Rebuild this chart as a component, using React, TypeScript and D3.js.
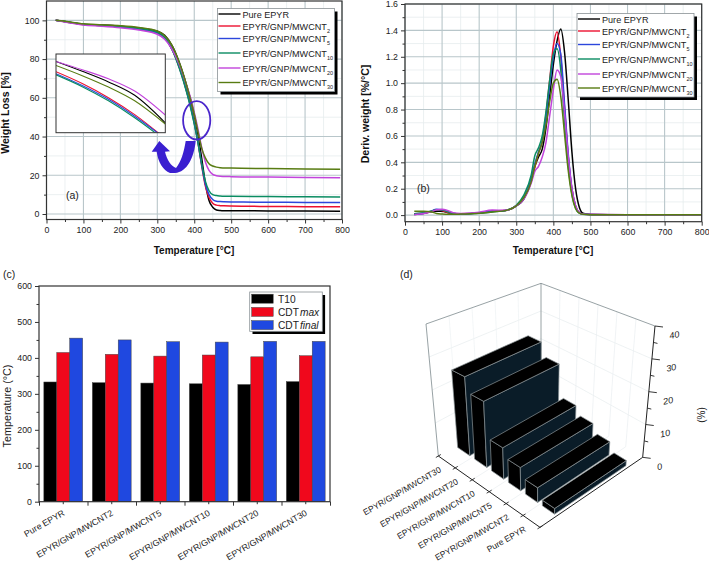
import React, { useEffect, useRef } from "react";
import * as d3 from "d3";

const seriesNames = ["Pure EPYR", "EPYR/GNP/MWCNT", "EPYR/GNP/MWCNT", "EPYR/GNP/MWCNT", "EPYR/GNP/MWCNT", "EPYR/GNP/MWCNT"];
const seriesSubs = ["", "2", "5", "10", "20", "30"];
const seriesColors = ["#000000", "#ec1030", "#2c46dc", "#0a8c62", "#c244dc", "#587c12"];

// TGA curves
const tempsA = [25, 50, 100, 150, 200, 250, 300, 320, 340, 360, 380, 390, 400, 410, 420, 430, 440, 450, 460, 470, 480, 500, 600, 700, 795];
const weightPure = [100, 99.4, 98, 97.6, 97, 96, 94.4, 92.3, 87, 78, 66, 59, 51, 41, 29, 16, 7, 3.5, 2.1, 1.8, 1.7, 1.7, 1.6, 1.5, 1.4];
const weight2 = [100, 99.3, 97.9, 97.3, 96.6, 95.5, 93.5, 91, 85, 75.5, 63, 56, 47.5, 37, 25, 14.5, 8.5, 5.6, 4.6, 4.3, 4.2, 4.1, 3.9, 3.8, 3.7];
const weight5 = [100, 99.3, 97.9, 97.3, 96.6, 95.5, 93.6, 91, 85, 75.5, 63, 55.5, 47, 37, 25.5, 15.5, 10, 7.5, 6.6, 6.4, 6.3, 6.2, 6.1, 6, 5.9];
const weight10 = [100, 99.4, 98, 97.4, 96.8, 95.8, 93.8, 91.2, 85, 75, 62.5, 55, 46.5, 37, 26, 17, 12, 10, 9.5, 9.3, 9.2, 9.2, 9, 8.9, 8.8];
const weight20 = [100, 99.2, 97.6, 97, 96.2, 95, 92.8, 90.2, 85, 77, 66, 60, 52.5, 44, 34.5, 27, 22.5, 20.5, 19.8, 19.5, 19.4, 19.3, 19.1, 18.9, 18.7];
const weight30 = [100, 99.5, 98.2, 97.7, 97.2, 96.3, 94.5, 92.2, 87, 78, 66, 59, 51.5, 42.5, 34, 29, 26, 24.8, 24.2, 23.9, 23.8, 23.7, 23.5, 23.3, 23.1];

// inset of (a)
const insetTemps = [385, 391, 397, 403, 410];
const insetPure = [58.1, 55.6, 52.9, 49.5, 42.5];
const inset2 = [55.5, 52.5, 48.9, 44.6, 38.5];
const inset5 = [55, 52, 48.5, 44.2, 38.5];
const inset10 = [54.7, 51.7, 48.1, 43.8, 38];
const inset20 = [58.1, 56, 53.7, 50.6, 44.5];
const inset30 = [57.1, 54.5, 51.6, 48.1, 42.2];

// DTG curves
const tempsB = [25, 50, 70, 85, 100, 115, 130, 150, 200, 235, 270, 300, 320, 340, 350, 360, 370, 380, 390, 400, 410, 420, 430, 440, 450, 460, 470, 480, 500, 600, 800];
const derivPure = [0.01, 0.015, 0.025, 0.03, 0.03, 0.02, 0.01, 0.01, 0.015, 0.03, 0.035, 0.07, 0.12, 0.26, 0.37, 0.44, 0.5, 0.66, 0.9, 1.14, 1.32, 1.41, 1.24, 0.88, 0.48, 0.2, 0.06, 0.015, 0.005, 0.002, 0.002];
const deriv2 = [0.005, 0.012, 0.028, 0.04, 0.035, 0.02, 0.01, 0.01, 0.018, 0.032, 0.035, 0.07, 0.13, 0.25, 0.36, 0.47, 0.56, 0.76, 1.02, 1.28, 1.39, 1.2, 0.82, 0.45, 0.2, 0.07, 0.02, 0.008, 0.004, 0.002, 0.002];
const deriv5 = [0.005, 0.012, 0.03, 0.045, 0.04, 0.03, 0.012, 0.01, 0.018, 0.03, 0.035, 0.07, 0.13, 0.27, 0.39, 0.48, 0.56, 0.74, 0.98, 1.2, 1.3, 1.22, 0.85, 0.47, 0.2, 0.07, 0.02, 0.008, 0.004, 0.002, 0.002];
const deriv10 = [0.01, 0.018, 0.03, 0.04, 0.04, 0.025, 0.012, 0.01, 0.014, 0.024, 0.034, 0.075, 0.15, 0.3, 0.45, 0.51, 0.6, 0.78, 1.02, 1.22, 1.26, 1.1, 0.72, 0.38, 0.16, 0.05, 0.015, 0.006, 0.003, 0.002, 0.002];
const deriv20 = [0.005, 0.012, 0.025, 0.04, 0.045, 0.035, 0.018, 0.012, 0.022, 0.038, 0.036, 0.07, 0.12, 0.24, 0.33, 0.37, 0.44, 0.55, 0.75, 0.95, 1.1, 1.05, 0.78, 0.45, 0.2, 0.07, 0.02, 0.008, 0.004, 0.003, 0.002];
const deriv30 = [0.03, 0.03, 0.025, 0.012, 0.008, 0.006, 0.006, 0.008, 0.014, 0.024, 0.034, 0.07, 0.13, 0.25, 0.37, 0.47, 0.55, 0.68, 0.86, 1, 1.03, 0.9, 0.62, 0.34, 0.15, 0.05, 0.015, 0.006, 0.003, 0.002, 0.002];

// bars of (c)
const barCategories = ["Pure EPYR", "EPYR/GNP/MWCNT2", "EPYR/GNP/MWCNT5", "EPYR/GNP/MWCNT10", "EPYR/GNP/MWCNT20", "EPYR/GNP/MWCNT30"];
const barKeys = ["T10", "CDT", "CDT"];
const barKeyItalics = ["", "max", "final"];
const barColors = ["#000000", "#f0081c", "#1f48e0"];
const t10 = [333, 331, 330, 328, 326, 334];
const cdtMax = [415, 410, 405, 408, 403, 406];
const cdtFinal = [455, 450, 445, 444, 446, 446];

// bars of (d), back to front
const charCategories = ["EPYR/GNP/MWCNT30", "EPYR/GNP/MWCNT20", "EPYR/GNP/MWCNT10", "EPYR/GNP/MWCNT5", "EPYR/GNP/MWCNT2", "Pure EPYR"];
const charValues = [24, 19.5, 9, 6.5, 4, 1.5];

const FONT = "'Liberation Sans', Arial, sans-serif";
type S = d3.Selection<any, any, any, any>;
type Pt = [number, number];

function drawLegend(g: S, x: number, y: number, w: number, rowYs: number[], fontSize: number) {
  g.append("rect").attr("x", x + 3).attr("y", y + 3).attr("width", w).attr("height", rowYs[5] - y + 9).attr("fill", "#000");
  g.append("rect").attr("x", x).attr("y", y).attr("width", w).attr("height", rowYs[5] - y + 9).attr("fill", "#fff").attr("stroke", "#8a9296").attr("stroke-width", 0.8);
  seriesNames.forEach((name, i) => {
    g.append("line").attr("x1", x + 1).attr("x2", x + 23).attr("y1", rowYs[i]).attr("y2", rowYs[i]).attr("stroke", seriesColors[i]).attr("stroke-width", 1.4);
    const t = g.append("text").attr("x", x + 25).attr("y", rowYs[i] + 3.5).attr("font-size", fontSize).attr("fill", "#222");
    t.append("tspan").text(name);
    if (seriesSubs[i]) t.append("tspan").attr("dy", 3).attr("font-size", fontSize * 0.6).text(seriesSubs[i]);
  });
}

function drawLinePanel(
  g: S,
  box: { l: number; r: number; t: number; b: number },
  yDomain: [number, number],
  yMajor: number[],
  yMinor: number[],
  yFormat: (d: number) => string,
  temps: number[],
  series: number[][],
) {
  const x = d3.scaleLinear().domain([0, 800]).range([box.l, box.r]);
  const y = d3.scaleLinear().domain(yDomain).range([box.b, box.t]);
  const xMajor = d3.range(0, 801, 100);
  const xMinor = d3.range(50, 800, 100);

  // grid
  const grid = (vals: number[], color: string, width: number) => {
    vals.forEach((v) => g.append("line").attr("x1", x(v)).attr("x2", x(v)).attr("y1", box.t).attr("y2", box.b).attr("stroke", color).attr("stroke-width", width));
  };
  const gridH = (vals: number[], color: string, width: number) => {
    vals.forEach((v) => g.append("line").attr("x1", box.l).attr("x2", box.r).attr("y1", y(v)).attr("y2", y(v)).attr("stroke", color).attr("stroke-width", width));
  };
  grid(xMinor, "#e6ecee", 0.8);
  gridH(yMinor, "#e6ecee", 0.8);
  grid(xMajor, "#b8c6ca", 1.1);
  gridH(yMajor, "#b8c6ca", 1.1);

  const line = d3.line<number>().x((_, i) => x(temps[i])).y((d) => y(d)).curve(d3.curveMonotoneX);
  series.forEach((vals, i) => {
    g.append("path").attr("d", line(vals)).attr("fill", "none").attr("stroke", seriesColors[i]).attr("stroke-width", 1.5);
  });

  g.append("rect").attr("x", box.l).attr("y", box.t).attr("width", box.r - box.l).attr("height", box.b - box.t).attr("fill", "none").attr("stroke", "#333").attr("stroke-width", 1.2);

  const xAxis = d3.axisBottom(x).tickValues(xMajor).tickSize(4).tickFormat((d) => String(d));
  const xAxisMinor = d3.axisBottom(x).tickValues(xMinor).tickSize(2.5).tickFormat(() => "");
  const yAxis = d3.axisLeft(y).tickValues(yMajor).tickSize(4).tickFormat((d) => yFormat(+d));
  const yAxisMinor = d3.axisLeft(y).tickValues(yMinor).tickSize(2.5).tickFormat(() => "");
  [
    g.append("g").attr("transform", `translate(0,${box.b})`).call(xAxis),
    g.append("g").attr("transform", `translate(0,${box.b})`).call(xAxisMinor),
    g.append("g").attr("transform", `translate(${box.l},0)`).call(yAxis),
    g.append("g").attr("transform", `translate(${box.l},0)`).call(yAxisMinor),
  ].forEach((a) => {
    a.select(".domain").remove();
    a.selectAll("line").attr("stroke", "#333");
    a.selectAll("text").attr("font-family", FONT).attr("font-size", 8.8).attr("fill", "#222");
  });
  return { x, y };
}

const App: React.FC = () => {
  const svgRef = useRef<SVGSVGElement | null>(null);

  useEffect(() => {
    const svg = d3.select(svgRef.current);
    svg.selectAll("*").remove();
    const root = svg.append("g").attr("font-family", FONT);

    // (a)
    const a = root.append("g");
    drawLinePanel(
      a,
      { l: 46.5, r: 342, t: 1, b: 219.5 },
      [-2.84, 110],
      d3.range(0, 101, 20),
      d3.range(10, 101, 20),
      (d) => String(d),
      tempsA,
      [weightPure, weight2, weight5, weight10, weight20, weight30],
    );
    drawLegend(a, 217.5, 8.5, 117, [14, 26, 38.5, 53, 68, 82.5], 9.1);
    a.append("text").attr("x", 66).attr("y", 199).attr("font-size", 10.5).attr("fill", "#222").text("(a)");
    a.append("text").attr("x", 194).attr("y", 254).attr("text-anchor", "middle").attr("font-size", 10).attr("font-weight", 700).attr("fill", "#111").text("Temperature [°C]");
    a.append("text").attr("transform", "translate(9,113) rotate(-90)").attr("text-anchor", "middle").attr("font-size", 10.5).attr("font-weight", 700).attr("fill", "#111").text("Weight Loss [%]");

    // inset
    const insetBox = { l: 56, r: 165.3, t: 54, b: 132.7 };
    const ix = d3.scaleLinear().domain([385, 410]).range([insetBox.l, insetBox.r]);
    const iy = d3.scaleLinear().domain([60, 40]).range([insetBox.t, insetBox.b]);
    const clip = a.append("clipPath").attr("id", "inset-clip");
    clip.append("rect").attr("x", insetBox.l).attr("y", insetBox.t).attr("width", insetBox.r - insetBox.l).attr("height", insetBox.b - insetBox.t);
    a.append("rect").attr("x", insetBox.l).attr("y", insetBox.t).attr("width", insetBox.r - insetBox.l).attr("height", insetBox.b - insetBox.t).attr("fill", "#fff");
    const insetLine = d3.line<number>().x((_, i) => ix(insetTemps[i])).y((d) => iy(d)).curve(d3.curveMonotoneX);
    [insetPure, inset2, inset5, inset10, inset20, inset30].forEach((vals, i) => {
      a.append("path").attr("d", insetLine(vals)).attr("clip-path", "url(#inset-clip)").attr("fill", "none").attr("stroke", seriesColors[i]).attr("stroke-width", 1.1);
    });
    a.append("rect").attr("x", insetBox.l).attr("y", insetBox.t).attr("width", insetBox.r - insetBox.l).attr("height", insetBox.b - insetBox.t).attr("fill", "none").attr("stroke", "#333").attr("stroke-width", 1);

    // zoom marker and arrow
    a.append("ellipse").attr("cx", 196.7).attr("cy", 120.3).attr("rx", 13.6).attr("ry", 19.2).attr("fill", "none").attr("stroke", "#4a26cc").attr("stroke-width", 1.8);
    a.append("path")
      .attr("d", "M185.7,141 L195.7,141 C194,158 187,172 175,173 L170,173 C163,170 158,162 156.7,151.7 L151.7,151.7 L159.3,141 L170,151.2 L165,151.7 C167,160 171,166 176,168 C181,162 184,152 185.7,141 Z")
      .attr("fill", "#3a1fd0");

    // (b)
    const b = root.append("g");
    drawLinePanel(
      b,
      { l: 405, r: 701.7, t: 4, b: 221.7 },
      [-0.05, 1.6],
      d3.range(0, 1.61, 0.2),
      d3.range(0.1, 1.6, 0.2),
      (d) => d.toFixed(1),
      tempsB,
      [derivPure, deriv2, deriv5, deriv10, deriv20, deriv30],
    );
    drawLegend(b, 577, 13.5, 117, [19, 31, 44.5, 59, 74, 88], 9.1);
    b.append("text").attr("x", 417).attr("y", 192).attr("font-size", 10.5).attr("fill", "#222").text("(b)");
    b.append("text").attr("x", 553).attr("y", 254).attr("text-anchor", "middle").attr("font-size", 10).attr("font-weight", 700).attr("fill", "#111").text("Temperature [°C]");
    b.append("text").attr("transform", "translate(369,114) rotate(-90)").attr("text-anchor", "middle").attr("font-size", 10.5).attr("font-weight", 700).attr("fill", "#111").text("Deriv. weight [%/°C]");

    // (c)
    const c = root.append("g");
    const cBox = { l: 39, r: 330, t: 286, b: 501.7 };
    const cx = d3.scaleBand<string>().domain(barCategories).range([cBox.l, cBox.r]).paddingInner(0.2).paddingOuter(0.1);
    const cInner = d3.scaleBand<number>().domain([0, 1, 2]).range([0, cx.bandwidth()]);
    const cy = d3.scaleLinear().domain([0, 600]).range([cBox.b, cBox.t]);
    [t10, cdtMax, cdtFinal].forEach((vals, k) => {
      c.selectAll(`.bar${k}`).data(vals).enter().append("rect")
        .attr("x", (_, i) => cx(barCategories[i])! + cInner(k)!)
        .attr("y", (d) => cy(d))
        .attr("width", cInner.bandwidth())
        .attr("height", (d) => cBox.b - cy(d))
        .attr("fill", barColors[k])
        .attr("stroke", "#444")
        .attr("stroke-width", 0.5);
    });
    const cyAxis = d3.axisLeft(cy).tickValues(d3.range(0, 601, 100)).tickSize(4);
    const cyMinor = d3.axisLeft(cy).tickValues(d3.range(50, 600, 100)).tickSize(2.5).tickFormat(() => "");
    const cxAxis = d3.axisBottom(cx).tickSize(2.5).tickFormat(() => "");
    const cxEdges = d3.scaleLinear().domain([0, 6]).range([cBox.l, cBox.r]);
    const cxEdgeAxis = d3.axisBottom(cxEdges).tickValues(d3.range(0, 7)).tickSize(4).tickFormat(() => "");
    [
      c.append("g").attr("transform", `translate(${cBox.l},0)`).call(cyAxis),
      c.append("g").attr("transform", `translate(${cBox.l},0)`).call(cyMinor),
      c.append("g").attr("transform", `translate(0,${cBox.b})`).call(cxAxis),
      c.append("g").attr("transform", `translate(0,${cBox.b})`).call(cxEdgeAxis),
    ].forEach((ax) => {
      ax.select(".domain").remove();
      ax.selectAll("line").attr("stroke", "#333");
      ax.selectAll("text").attr("font-family", FONT).attr("font-size", 8.8).attr("fill", "#222");
    });
    c.append("rect").attr("x", cBox.l).attr("y", cBox.t).attr("width", cBox.r - cBox.l).attr("height", cBox.b - cBox.t).attr("fill", "none").attr("stroke", "#333").attr("stroke-width", 1.2);
    barCategories.forEach((name) => {
      const px = cx(name)! + cx.bandwidth() / 2 + 2;
      c.append("text").attr("transform", `translate(${px},${cBox.b + 13}) rotate(-30)`).attr("text-anchor", "end").attr("font-size", 8.8).attr("fill", "#222").text(name);
    });
    c.append("text").attr("transform", `translate(11,406) rotate(-90)`).attr("text-anchor", "middle").attr("font-size", 10.8).attr("fill", "#222").text("Temperature (°C)");
    c.append("text").attr("x", 3).attr("y", 278).attr("font-size", 10.5).attr("fill", "#222").text("(c)");
    // legend of (c)
    c.append("rect").attr("x", 252.5).attr("y", 295).attr("width", 72.6).attr("height", 39).attr("fill", "#000");
    c.append("rect").attr("x", 249.7).attr("y", 292).attr("width", 72.6).attr("height", 39.3).attr("fill", "#fff").attr("stroke", "#8a9296").attr("stroke-width", 0.8);
    barKeys.forEach((key, i) => {
      const rowY = 294.2 + i * 13.2;
      c.append("rect").attr("x", 251.7).attr("y", rowY).attr("width", 21.5).attr("height", 9).attr("fill", barColors[i]).attr("stroke", "#444").attr("stroke-width", 0.5);
      const t = c.append("text").attr("x", 278).attr("y", rowY + 8.5).attr("font-size", 10.2).attr("fill", "#222");
      t.append("tspan").text(key);
      if (barKeyItalics[i]) t.append("tspan").attr("dx", 1).attr("font-style", "italic").text(barKeyItalics[i]);
    });

    // (d) box corners in screen space, the bars go through project()
    const d = root.append("g");
    const ox = 350;
    const oy = 270;
    const corner = (x: number, y: number): Pt => [ox + x / 3, oy + y / 3];
    const A = corner(265, 558);
    const B = corner(570, 772);
    const C = corner(878, 562);
    const D = corner(573, 372);
    const At = corner(228, 162);
    const Bt = corner(570, 305);
    const Ct = corner(915, 168);
    const Dt = corner(573, 40);
    const uScale = d3.scaleLinear().domain([0, charCategories.length]).range([0, 1]);
    const wScale = d3.scaleLinear().domain([0, 40]).range([0, 1]);
    const mix = (p: Pt, q: Pt, t: number): Pt => [p[0] + (q[0] - p[0]) * t, p[1] + (q[1] - p[1]) * t];
    const project = (u: number, v: number, w: number): Pt => {
      const uu = uScale(u);
      const floor = mix(mix(A, B, uu), mix(D, C, uu), v);
      const top = mix(mix(At, Bt, uu), mix(Dt, Ct, uu), v);
      return mix(floor, top, wScale(w));
    };
    const polyLine = (pts: Pt[], color: string, width: number) =>
      d.append("path").attr("d", d3.line()(pts)).attr("fill", "none").attr("stroke", color).attr("stroke-width", width);

    // walls
    d3.range(10, 31, 10).forEach((w) => {
      polyLine([project(0, 0, w), project(0, 1, w), project(6, 1, w)], "#e6ecee", 0.7);
    });
    d3.range(1, 6).forEach((u) => {
      polyLine([project(u, 0, 0), project(u, 1, 0), project(u, 1, 40)], "#e9eef0", 0.7);
    });
    d3.range(0.2, 1, 0.2).forEach((v) => {
      polyLine([project(0, v, 40), project(0, v, 0), project(6, v, 0)], "#eef2f3", 0.7);
    });
    polyLine([project(0, 0, 0), project(0, 0, 40), project(0, 1, 40), project(6, 1, 40)], "#7d8a8e", 0.8);
    polyLine([project(0, 1, 40), project(0, 1, 0)], "#7d8a8e", 0.8);

    // bars
    const barU0 = 0.14;
    const barU1 = 0.86;
    const barV0 = 0.165;
    const barV1 = 0.86;
    charValues.forEach((val, i) => {
      const face = (pts: Pt[], fill: string) =>
        d.append("path").attr("d", d3.line()(pts) + "Z").attr("fill", fill).attr("stroke", "#8b9496").attr("stroke-width", 0.7).attr("stroke-linejoin", "round");
      const u0 = i + barU0;
      const u1 = i + barU1;
      face([project(u0, barV0, 0), project(u1, barV0, 0), project(u1, barV0, val), project(u0, barV0, val)], "#000");
      face([project(u1, barV0, 0), project(u1, barV1, 0), project(u1, barV1, val), project(u1, barV0, val)], "#0a1c28");
      face([project(u0, barV0, val), project(u1, barV0, val), project(u1, barV1, val), project(u0, barV1, val)], "#000");
    });

    // axes of (d)
    polyLine([A, B, C, Ct], "#222", 1);
    d3.range(0, 7).forEach((u) => {
      const p = project(u, 0, 0);
      polyLine([[p[0] + 2.5, p[1] - 1.5], [p[0] - 2.5, p[1] + 1.5]], "#222", 0.9);
    });
    d3.range(0, 41, 5).forEach((w) => {
      const p = project(6, 1, w);
      const len = w % 10 === 0 ? 8 : 4;
      polyLine([p, [p[0] + len, p[1] + 1]], "#222", 0.9);
      if (w % 10 === 0) {
        d.append("text").attr("transform", `translate(${p[0] + 15},${p[1] + 13}) rotate(-12)`).attr("font-size", 9).attr("font-style", "italic").attr("fill", "#222").text(String(w));
      }
    });
    charCategories.forEach((name, i) => {
      const p = project(i + 0.5, 0, 0);
      d.append("text").attr("transform", `translate(${p[0] - 5},${p[1] + 9.5}) rotate(-30)`).attr("text-anchor", "end").attr("font-size", 8.5).attr("fill", "#222").text(name);
    });
    d.append("text").attr("transform", "translate(705,415) rotate(-90)").attr("text-anchor", "middle").attr("font-size", 10).attr("fill", "#222").text("(%)");
    d.append("text").attr("x", 400).attr("y", 278).attr("font-size", 10.5).attr("fill", "#222").text("(d)");
  }, []);

  return <svg ref={svgRef} width={709} height={563} style={{ position: "absolute", left: 0, top: 0, background: "#fff" }} />;
};

export default App;
